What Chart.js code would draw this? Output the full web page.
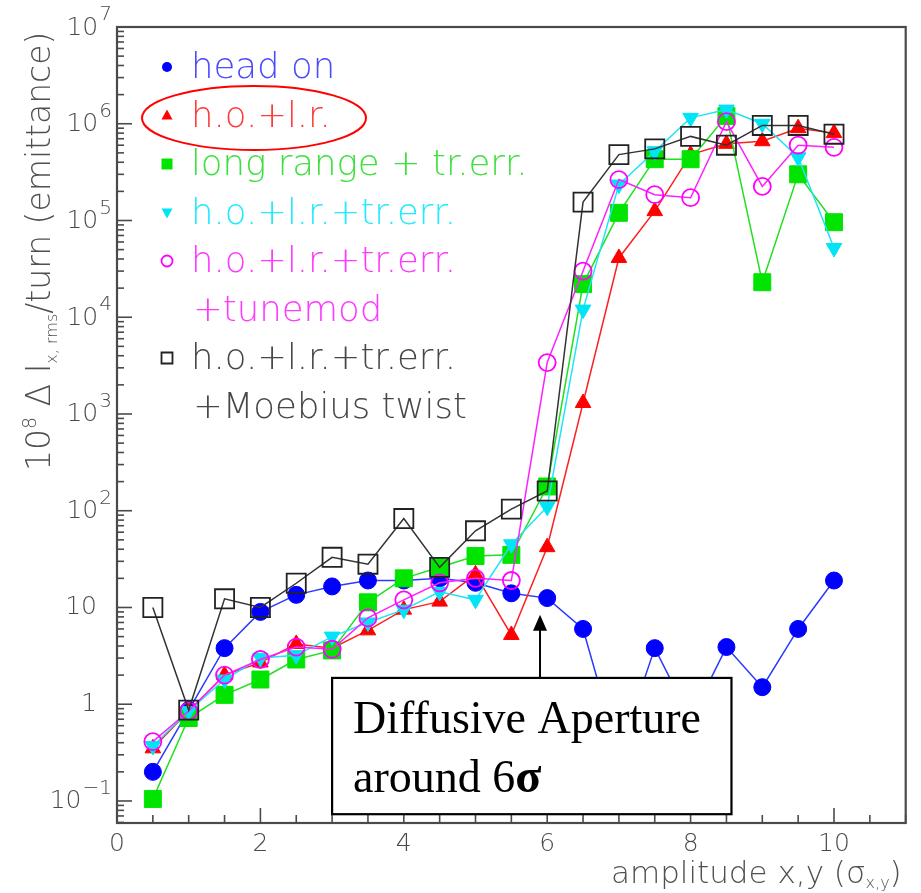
<!DOCTYPE html>
<html>
<head>
<meta charset="utf-8">
<title>Diffusive aperture</title>
<style>
    html, body { margin: 0; padding: 0; background: #fff; }
    #wrap { width: 921px; height: 893px; }
</style>
</head>
<body>
<div id="wrap"><canvas id="apertureChart" width="921" height="893"></canvas></div>

<script src="https://cdn.jsdelivr.net/npm/chart.js@4/dist/chart.umd.min.js"></script>
<script>

// ================= DATA =================
let amplitude = [0.5, 1, 1.5, 2, 2.5, 3, 3.5, 4, 4.5, 5, 5.5, 6, 6.5, 7, 7.5, 8, 8.5, 9, 9.5, 10];

let headOn    = [0.2, 0.87, 3.8, 9, 13.5, 16.5, 19, 19, 20, 18, 14, 12.5, 6, 0.3, 3.8, 0.7, 3.9, 1.5, 6, 19];
let hoLr      = [0.35, 0.85, 2.0, 2.7, 4.2, 3.8, 5.8, 9.5, 11.5, 22, 5.2, 42, 1300, 41000, 125000, 480000, 620000, 660000, 900000, 800000];
let lrTrErr   = [0.105, 0.72, 1.25, 1.8, 2.9, 3.6, 11.3, 20, 26, 34, 35, 178, 22000, 120000, 430000, 430000, 1.2e6, 23000, 300000, 96000];
let hoLrTrErr = [0.37, 0.85, 1.8, 3.0, 3.2, 5.0, 7, 9.5, 14.5, 12, 45, 110, 12000, 235000, 520000, 1.15e6, 1.4e6, 1e6, 450000, 52000];
let tunemod   = [0.41, 0.85, 2.0, 2.9, 3.9, 3.7, 7.8, 12, 18, 20, 19, 3400, 30000, 265000, 185000, 172000, 1.05e6, 225000, 600000, 570000];
let moebius   = [10, 0.87, 12.3, 10, 17.8, 33, 28, 83, 26, 62, 104, 160, 155000, 480000, 550000, 740000, 600000, 960000, 960000, 780000];

let xTicks = [0, 2, 4, 6, 8, 10];
let yPowers = [-1, 0, 1, 2, 3, 4, 5, 6, 7];

let legendLines = [
    ["head on"],
    ["h.o.+l.r."],
    ["long range + tr.err."],
    ["h.o.+l.r.+tr.err."],
    ["h.o.+l.r.+tr.err.", "+tunemod"],
    ["h.o.+l.r.+tr.err.", "+Moebius twist"]
];

// ================= STYLES =================
let SANS = "'DejaVu Sans', sans-serif";
let AXIS_GRAY = "#4a4a4a";

let seriesStyle = [
    { color: "#0000ff", line: "#2a3aff", text: "#4a4aff", style: "circle",   radius: 8.5, fill: true,  rot: 0 },
    { color: "#ff0000", line: "#ff2020", text: "#ff3a3a", style: "triangle", radius: 9,   fill: true,  rot: 0 },
    { color: "#00e400", line: "#20e020", text: "#3ee03e", style: "rect",     radius: 12,  fill: true,  rot: 0 },
    { color: "#00e4f6", line: "#20e4f6", text: "#22eaff", style: "triangle", radius: 9,   fill: true,  rot: 180 },
    { color: "#ff00ff", line: "#ff20ff", text: "#ff3aff", style: "circle",   radius: 8.5, fill: false, rot: 0 },
    { color: "#222222", line: "#333333", text: "#474747", style: "rect",     radius: 13.5, fill: false, rot: 0 }
];

let seriesValues = [headOn, hoLr, lrTrErr, hoLrTrErr, tunemod, moebius];

function makeDataset(values, s, i){

    return {
        data: values.map((v, k) => ({ x: amplitude[k], y: v })),
        order: 6 - i,
        borderColor: s.line,
        borderWidth: 1.5,
        pointStyle: s.style,
        pointRotation: s.rot,
        pointRadius: s.radius,
        pointHoverRadius: s.radius,
        pointBorderWidth: s.fill ? 1 : 1.8,
        pointBorderColor: s.color,
        pointBackgroundColor: s.fill ? s.color : "rgba(0,0,0,0)",
        tension: 0,
        fill: false
    };

}

// ================= FRAME + TICKS =================
let framePlugin = {

    id: "frame",

    beforeDatasetsDraw(chart){

        let ctx = chart.ctx;
        let a = chart.chartArea;
        let xs = chart.scales.x;
        let ys = chart.scales.y;

        ctx.save();
        ctx.strokeStyle = AXIS_GRAY;
        ctx.lineWidth = 1.6;

        // x ticks every 0.5, major every 2
        for(let v = 0; v <= 11.001; v += 0.5){
            let px = xs.getPixelForValue(v);
            let len = (Math.abs(v % 2) < 0.001) ? 15 : 8;
            ctx.beginPath();
            ctx.moveTo(px, a.bottom);
            ctx.lineTo(px, a.bottom - len);
            ctx.stroke();
        }

        // y ticks, log decades
        for(let p = -2; p <= 7; p++){
            for(let m = 1; m <= 9; m++){
                let v = m * Math.pow(10, p);
                if(v < ys.min || v > ys.max) continue;
                let py = ys.getPixelForValue(v);
                let len = (m === 1) ? 15 : 7;
                ctx.beginPath();
                ctx.moveTo(a.left, py);
                ctx.lineTo(a.left + len, py);
                ctx.stroke();
            }
        }

        // frame
        ctx.lineWidth = 2.2;
        ctx.strokeRect(a.left, a.top, a.right - a.left, a.bottom - a.top);

        // x tick labels
        ctx.fillStyle = AXIS_GRAY;
        ctx.font = "200 25px " + SANS;
        ctx.textAlign = "center";
        ctx.textBaseline = "middle";
        xTicks.forEach(v => {
            ctx.fillText(String(v), xs.getPixelForValue(v), a.bottom + 21);
        });

        // y tick labels with exponents
        yPowers.forEach(p => {
            let py = ys.getPixelForValue(Math.pow(10, p));
            let right = a.left - 5;
            ctx.textAlign = "right";
            if(p === 0 || p === 1){
                ctx.font = "200 25px " + SANS;
                ctx.fillText(p === 0 ? "1" : "10", a.left - 20, py);
                return;
            }
            let expText = p < 0 ? "\u2212" + Math.abs(p) : String(p);
            ctx.font = "200 20px " + SANS;
            let ew = ctx.measureText(expText).width;
            ctx.fillText(expText, right, py - 12);
            ctx.font = "200 25px " + SANS;
            ctx.fillText("10", right - ew - 1, py + 1);
        });

        ctx.restore();

    }

};

// ================= LEGEND, TITLES, NOTE =================
function drawRun(ctx, parts, x, y){

    // parts: [text, size, dy]
    parts.forEach(part => {
        ctx.font = "200 " + part[1] + "px " + SANS;
        ctx.fillText(part[0], x, y + part[2]);
        x += ctx.measureText(part[0]).width;
    });

}

function runWidth(ctx, parts){

    let w = 0;
    parts.forEach(part => {
        ctx.font = "200 " + part[1] + "px " + SANS;
        w += ctx.measureText(part[0]).width;
    });
    return w;

}

let overlayPlugin = {

    id: "overlay",

    afterDatasetsDraw(chart){

        let ctx = chart.ctx;
        let a = chart.chartArea;
        let xs = chart.scales.x;
        let ys = chart.scales.y;

        ctx.save();

        /* ---------- legend ---------- */
        let markX = a.left + 50;
        let textX = a.left + 74;
        let rowY = a.top + 40;
        let step = 48.5;

        ctx.textAlign = "left";
        ctx.textBaseline = "middle";

        legendLines.forEach((lines, i) => {

            let s = seriesStyle[i];
            let r = s.fill ? 5 : 5.5;

            ctx.fillStyle = s.color;
            ctx.strokeStyle = s.color;
            ctx.lineWidth = s.fill ? 1 : 1.8;
            ctx.beginPath();
            if(s.style === "circle"){
                ctx.arc(markX, rowY, r, 0, Math.PI * 2);
            } else if(s.style === "rect"){
                ctx.rect(markX - 5.5, rowY - 5.5, 11, 11);
            } else {
                let dir = s.rot ? 1 : -1;
                ctx.moveTo(markX, rowY + dir * 6);
                ctx.lineTo(markX - 5.5, rowY - dir * 4);
                ctx.lineTo(markX + 5.5, rowY - dir * 4);
                ctx.closePath();
            }
            if(s.fill){ ctx.fill(); } else { ctx.stroke(); }

            ctx.fillStyle = s.text;
            ctx.font = "200 35.5px " + SANS;
            lines.forEach((t, j) => {
                ctx.fillText(t, textX + (j ? 2 : 0), rowY + 2);
                rowY += step;
            });

        });

        /* ---------- red ellipse round h.o.+l.r. ---------- */
        ctx.strokeStyle = "#ff0000";
        ctx.lineWidth = 2;
        ctx.beginPath();
        ctx.ellipse(a.left + 137, a.top + 91, 112, 32, 0, 0, Math.PI * 2);
        ctx.stroke();

        /* ---------- y title ---------- */
        ctx.fillStyle = "#505050";
        ctx.textBaseline = "alphabetic";
        let yParts = [
            ["10", 33, 0], ["8", 19, -14], [" \u0394 I", 33, 0],
            ["x, rms", 16, 7], ["/turn (emittance)", 33, 0]
        ];
        ctx.translate(50, 471);
        ctx.rotate(-Math.PI / 2);
        drawRun(ctx, yParts, 0, 0);
        ctx.setTransform(1, 0, 0, 1, 0, 0);

        /* ---------- x title ---------- */
        let xParts = [["amplitude x,y (\u03c3", 31, 0], ["x,y", 16, 5], [")", 31, 0]];
        let xw = runWidth(ctx, xParts);
        drawRun(ctx, xParts, a.right - 4 - xw, 883);

        /* ---------- note box + arrow ---------- */
        let bx0 = xs.getPixelForValue(3.0);
        let bx1 = xs.getPixelForValue(8.57);
        let by0 = ys.getPixelForValue(1.87);
        let by1 = ys.getPixelForValue(0.073);

        ctx.fillStyle = "#fff";
        ctx.fillRect(bx0, by0, bx1 - bx0, by1 - by0);
        ctx.strokeStyle = "#000";
        ctx.lineWidth = 2.2;
        ctx.strokeRect(bx0, by0, bx1 - bx0, by1 - by0);

        let ax = xs.getPixelForValue(5.9);
        let tip = ys.getPixelForValue(8.4);
        ctx.lineWidth = 2;
        ctx.beginPath();
        ctx.moveTo(ax, by0);
        ctx.lineTo(ax, tip + 12);
        ctx.stroke();
        ctx.fillStyle = "#000";
        ctx.beginPath();
        ctx.moveTo(ax, tip);
        ctx.lineTo(ax - 7, tip + 16);
        ctx.lineTo(ax + 7, tip + 16);
        ctx.closePath();
        ctx.fill();

        ctx.fillStyle = "#000";
        ctx.textAlign = "left";
        ctx.textBaseline = "alphabetic";
        ctx.font = "46px 'Liberation Serif', serif";
        ctx.fillText("Diffusive Aperture", bx0 + 21, by0 + 55);
        ctx.fillText("around 6", bx0 + 21, by0 + 114);
        let aw = ctx.measureText("around 6").width;
        ctx.font = "bold 48px 'Liberation Serif', serif";
        ctx.fillText("\u03c3", bx0 + 21 + aw, by0 + 114);

        ctx.restore();

    }

};

// ================= CHART =================
let ctx = document.getElementById("apertureChart");

let apertureChart = new Chart(ctx, {

    type: "line",

    data: {
        datasets: seriesValues.map((vals, i) => makeDataset(vals, seriesStyle[i], i))
    },

    options: {

        responsive: false,
        animation: false,
        devicePixelRatio: 1,

        layout: {
            padding: { left: 117, right: 10, top: 27, bottom: 70 }
        },

        plugins: {
            legend: { display: false },
            tooltip: { enabled: false }
        },

        scales: {

            x: {
                type: "linear",
                display: false,
                min: 0,
                max: 11
            },

            y: {
                type: "logarithmic",
                display: false,
                min: 0.0592,
                max: 1e7
            }

        }

    },

    plugins: [framePlugin, overlayPlugin]

});

</script>
</body>
</html>
